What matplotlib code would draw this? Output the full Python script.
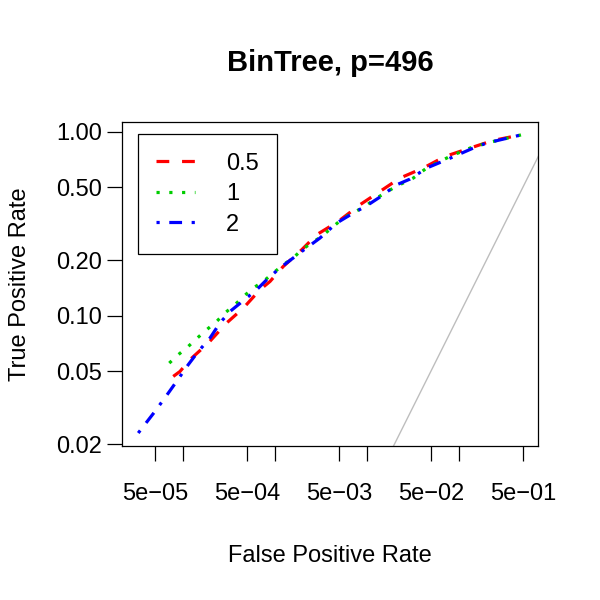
import numpy as np
import matplotlib
matplotlib.use('Agg')
import matplotlib.pyplot as plt
from matplotlib.ticker import FixedLocator, NullLocator, NullFormatter

plt.rcParams['font.family'] = ['Liberation Sans', 'DejaVu Sans']
plt.rcParams['font.size'] = 17
plt.rcParams['axes.unicode_minus'] = True

# ROC curves (false positive rate, true positive rate)
fpr_05 = [7.9e-5, 9.35e-5, 1.2e-4, 1.9e-4, 3.0e-4, 4.56e-4, 6.92e-4, 8.9e-4, 1.24e-3, 1.97e-3,
          2.86e-3, 4.91e-3, 8.45e-3, 0.01395, 0.0230, 0.0412, 0.071, 0.1327, 0.2377, 0.484]
tpr_05 = [0.0468, 0.0498, 0.0577, 0.0711, 0.0913, 0.110, 0.1384, 0.1536, 0.1853, 0.2284,
          0.2756, 0.3255, 0.401, 0.4738, 0.560, 0.635, 0.734, 0.815, 0.897, 0.963]

fpr_1 = [7.15e-5, 8.96e-5, 1.15e-4, 1.44e-4, 1.82e-4, 2.34e-4, 2.88e-4, 3.7e-4, 4.56e-4, 5.85e-4,
         7.52e-4, 9.66e-4, 1.24e-3, 1.59e-3, 1.97e-3, 2.52e-3, 3.24e-3, 4.34e-3, 5.57e-3, 9.6e-3,
         0.0123, 0.0203, 0.0321, 0.0449, 0.0804, 0.1327, 0.2014, 0.484]
tpr_1 = [0.0553, 0.0614, 0.0681, 0.0756, 0.0839, 0.0931, 0.1035, 0.1148, 0.127, 0.1414,
         0.1536, 0.1707, 0.1893, 0.206, 0.2284, 0.2485, 0.27, 0.3056, 0.3396, 0.3927,
         0.4306, 0.5004, 0.560, 0.635, 0.734, 0.815, 0.868, 0.963]

fpr_2 = [3.29e-5, 5.0e-5, 6.98e-5, 8.6e-5, 1.15e-4, 1.48e-4, 1.98e-4, 2.54e-4, 3.27e-4, 5.16e-4,
         6.37e-4, 8.52e-4, 1.14e-3, 1.59e-3, 1.97e-3, 3.11e-3, 4.72e-3, 7.15e-3, 0.01, 0.01395,
         0.0212, 0.0296, 0.0449, 0.0741, 0.144, 0.2014, 0.484]
tpr_2 = [0.02305, 0.0302, 0.038, 0.044, 0.0542, 0.064, 0.0756, 0.0913, 0.1055, 0.127,
         0.1384, 0.160, 0.1817, 0.206, 0.2236, 0.2645, 0.319, 0.3615, 0.396, 0.4417,
         0.515, 0.553, 0.635, 0.705, 0.815, 0.868, 0.963]

labels = ['0.5', '1', '2']
colors = ['#FF0000', '#00CD00', '#0000FF']
dash_styles = [(0, (4, 4)), (0, (1, 3)), (0, (1, 3, 4, 3))]

x_ticks = [5e-5, 1e-4, 5e-4, 1e-3, 5e-3, 1e-2, 5e-2, 1e-1, 5e-1]
x_ticklabels = ['5e\u221205', '', '5e\u221204', '', '5e\u221203', '', '5e\u221202', '', '5e\u221201']
y_ticks = [0.02, 0.05, 0.10, 0.20, 0.50, 1.00]
y_ticklabels = ['0.02', '0.05', '0.10', '0.20', '0.50', '1.00']

fig = plt.figure(figsize=(6, 6), dpi=100)
ax = fig.add_axes([0.2033, 0.2567, 0.6933, 0.54])

lw = 2.3
series = [(fpr_05, tpr_05), (fpr_1, tpr_1), (fpr_2, tpr_2)]
for (xs, ys), lab, c, ls in zip(series, labels, colors, dash_styles):
    ax.plot(xs, ys, color=c, linestyle=ls, linewidth=lw, label=lab,
            dash_capstyle='butt', solid_capstyle='butt')

# diagonal (random classifier)
diag = np.array([1e-3, 1.0])
ax.plot(diag, diag, color='#BEBEBE', linewidth=1.0, zorder=1)

ax.set_xscale('log')
ax.set_yscale('log')
ax.set_xlim(2.19e-5, 0.728)
ax.set_ylim(0.0196, 1.13)

ax.xaxis.set_major_locator(FixedLocator(x_ticks))
ax.set_xticklabels(x_ticklabels)
ax.xaxis.set_minor_locator(NullLocator())
ax.yaxis.set_major_locator(FixedLocator(y_ticks))
ax.set_yticklabels(y_ticklabels)
ax.yaxis.set_minor_locator(NullLocator())
ax.yaxis.set_minor_formatter(NullFormatter())
ax.xaxis.set_minor_formatter(NullFormatter())

ax.tick_params(axis='both', direction='out', length=10.5, width=0.9, labelsize=17)
ax.tick_params(axis='x', pad=16)
ax.tick_params(axis='y', pad=4)
for sp in ax.spines.values():
    sp.set_linewidth(0.9)

ax.set_title('BinTree, p=496', fontsize=21, fontweight='bold', pad=37)
ax.set_xlabel('False Positive Rate', fontsize=17, labelpad=29)
ax.set_ylabel('True Positive Rate', fontsize=17, labelpad=18)

leg = ax.legend(loc='upper left', bbox_to_anchor=(0.038, 0.962), frameon=True, fancybox=False,
                edgecolor='black', framealpha=1, handlelength=1.65, handletextpad=1.3,
                labelspacing=0.36, borderpad=0.78, borderaxespad=0, fontsize=17)
leg.get_frame().set_linewidth(0.9)

fig.savefig('out.png', dpi=100)
